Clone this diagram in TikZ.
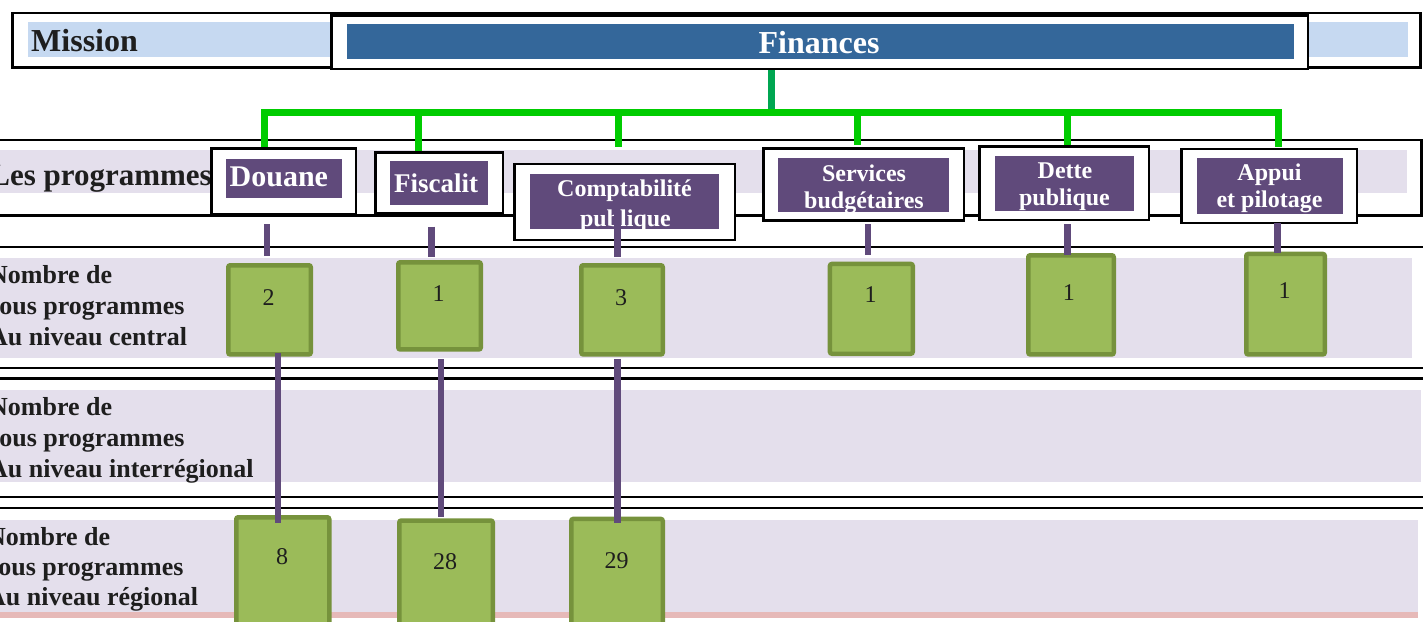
\documentclass[tikz,border=0pt]{standalone}
\usepackage{fontspec}
\setmainfont{Liberation Serif}
\usetikzlibrary{calc}
\definecolor{lblue}{HTML}{C6D9F1}
\definecolor{dblue}{HTML}{34679A}
\definecolor{lpurple}{HTML}{E4DFEC}
\definecolor{mpurple}{HTML}{604A7B}
\definecolor{gbright}{HTML}{00CC00}
\definecolor{gdark}{HTML}{00A651}
\definecolor{gfill}{HTML}{9BBB59}
\definecolor{gborder}{HTML}{76923C}
\definecolor{mpink}{HTML}{E6B9B8}
\definecolor{txt}{HTML}{1E1E1E}
\begin{document}
\begin{tikzpicture}[x=1pt,y=-1pt,
  wbox/.style={draw=black, line width=2.5pt, fill=white, inner sep=0pt},
  gbox/.style={draw=gborder, fill=gfill, line width=4.5pt, rounded corners=2pt, inner sep=0pt},
  rowline/.style={draw=black, line width=2.5pt},
  gline/.style={draw=gbright, line width=7pt},
  pline/.style={draw=mpurple, line width=6.5pt},
  rl/.style={anchor=base west, inner sep=0pt, text=txt, font=\fontsize{26}{31}\selectfont\bfseries},
  bigt/.style={inner sep=0pt, font=\fontsize{32}{38}\selectfont\bfseries},
  pt/.style={anchor=base, inner sep=0pt, text=white, font=\fontsize{24}{28}\selectfont\bfseries},
  num/.style={anchor=base, inner sep=0pt, text=txt, font=\fontsize{24}{28}\selectfont},
]
\useasboundingbox (0,0) rectangle (1423,621);
\clip (0,0) rectangle (1423,621);

% row bands
\fill[lpurple] (0,150) rectangle (1407,192.7);
\fill[lpurple] (0,258) rectangle (1412,357.7);
\fill[lpurple] (0,390) rectangle (1420.5,481.7);
\fill[lpurple] (0,520) rectangle (1418,612);
\fill[mpink] (0,612) rectangle (1418,618);

% row lines
\draw[rowline] (-5,140) -- (1421.5,140) -- (1421.5,215.5) -- (-5,215.5);
\draw[rowline] (-5,247) -- (1430,247);
\draw[rowline] (-5,368) -- (1430,368);
\draw[rowline] (-5,378.5) -- (1430,378.5);
\draw[rowline] (-5,497) -- (1430,497);
\draw[rowline] (-5,508) -- (1430,508);

% row labels
\node[bigt, anchor=base east, text=txt, font=\fontsize{31}{37}\selectfont\bfseries] (lprog) at (212,185) {Les programmes};
\node[rl] (lc1) at (-11,283) {Nombre de};
\node[rl] (lc2) at (-11,314) {sous programmes};
\node[rl] (lc3) at (-11,345) {Au niveau central};
\node[rl] (li1) at (-11,415) {Nombre de};
\node[rl] (li2) at (-11,446) {sous programmes};
\node[rl] (li3) at (-11,477) {Au niveau interrégional};
\node[rl] (lr1) at (-13,545) {Nombre de};
\node[rl] (lr2) at (-12,575) {sous programmes};
\node[rl] (lr3) at (-13,605) {Au niveau régional};

% mission row
\node[wbox, fill=none, minimum width=1408, minimum height=54.5] (mis) at (716.5,40) {};
\fill[lblue] (27.5,22) rectangle (1408,57);
\node[wbox, minimum width=976.5, minimum height=53.5] (fin) at (819.5,42) {};
\fill[dblue] (347,24) rectangle (1294,59);
\node[bigt, anchor=base west, text=txt] (mist) at (31,51.7) {Mission};
\node[bigt, anchor=base, text=white] (fint) at (819,53) {Finances};

% green bus
\coordinate (bus) at (771.5,112.5);
\coordinate (d1) at (264,147);
\coordinate (d2) at (418,151);
\coordinate (d3) at (618,147);
\coordinate (d4) at (857,145);
\coordinate (d5) at (1067,147);
\coordinate (d6) at (1278,147);
\draw[gline, draw=gdark] (fin.south -| bus) -- ($(bus)+(0,3.5)$);
\draw[gline, line join=miter] (d1) -- (d1 |- bus) -- (d6 |- bus) -- (d6);
\foreach \d in {d2,d3,d4,d5} \draw[gline] (\d |- bus) -- (\d);

% programme boxes
\node[wbox, minimum width=144.5, minimum height=65.5] (dou) at (283.5,181) {};
\fill[mpurple] (226,159) rectangle (342,198);
\node[pt, anchor=base west, font=\fontsize{30}{34}\selectfont\bfseries] (dout) at (229.5,186) {Douane};

\node[wbox, minimum width=127.5, minimum height=60.5] (fis) at (439,182.5) {};
\fill[mpurple] (390,161) rectangle (488,205);
\node[pt, anchor=base west, font=\fontsize{27}{32}\selectfont\bfseries] (fist) at (394,192) {Fiscalit};

\node[wbox, minimum width=220.5, minimum height=75.8] (com) at (624.5,201.85) {};
\fill[mpurple] (530,174) rectangle (719,229);
\begin{scope}
\clip (530,174) rectangle (719,229);
\node[pt] (comt1) at (624.5,196) {Comptabilité};
\node[pt] (comt2) at (625.5,226) {publique};
\end{scope}

\node[wbox, minimum width=200.5, minimum height=72.2] (ser) at (863.5,184.35) {};
\fill[mpurple] (778,158) rectangle (949,212);
\node[pt] (sert1) at (864,181.7) {Services};
\node[pt] (sert2) at (864,208.3) {budgétaires};

\node[wbox, minimum width=169.5, minimum height=73.5] (det) at (1064,183) {};
\fill[mpurple] (995,156) rectangle (1134,210.7);
\node[pt] (dett1) at (1065,178.3) {Dette};
\node[pt] (dett2) at (1064.5,205) {publique};

\node[wbox, minimum width=175.5, minimum height=73.8] (app) at (1269,185.85) {};
\fill[mpurple] (1197,158) rectangle (1343,214);
\node[pt] (appt1) at (1269.5,180) {Appui};
\node[pt] (appt2) at (1269.5,207) {et pilotage};

% central green boxes
\node[gbox, minimum width=82.5, minimum height=89.2] (c1) at (269.5,309.85) {};
\node[gbox, minimum width=82.5, minimum height=87.2] (c2) at (439.5,305.85) {};
\node[gbox, minimum width=81.5, minimum height=89.2] (c3) at (622,309.85) {};
\node[gbox, minimum width=82.8, minimum height=89.8] (c4) at (871.35,308.85) {};
\node[gbox, minimum width=85.5, minimum height=99.2] (c5) at (1071,304.85) {};
\node[gbox, minimum width=78.5, minimum height=100.5] (c6) at (1285.5,304.2) {};

% regional green boxes
\node[gbox, minimum width=93, minimum height=120.5] (r1) at (282.75,577.5) {};
\node[gbox, minimum width=93.5, minimum height=117.2] (r2) at (446,579.15) {};
\node[gbox, minimum width=91.5, minimum height=118.8] (r3) at (617,578.35) {};

% purple connectors
\coordinate (a1) at (267,224);    \coordinate (b1) at (267,256);
\coordinate (a2) at (431.6,226.7);\coordinate (b2) at (431.6,256.7);
\coordinate (a3) at (617.5,213);  \coordinate (b3) at (617.5,256.7);
\coordinate (a4) at (868,224);    \coordinate (b4) at (868,255);
\coordinate (a5) at (1067.5,224); \coordinate (b5) at (1067.5,255);
\coordinate (a6) at (1277.7,222.7);\coordinate (b6) at (1277.7,253);
\foreach \i in {1,...,6} \draw[pline] (a\i) -- (b\i);
\coordinate (e1) at (277.8,353);  \coordinate (f1) at (277.8,522.7);
\coordinate (e2) at (440.8,359);  \coordinate (f2) at (440.8,516.7);
\coordinate (e3) at (617.5,359);  \coordinate (f3) at (617.5,522.7);
\foreach \i in {1,2,3} \draw[pline] (e\i) -- (f\i);

% numbers
\node[num] (n1) at (268.6,305) {2};
\node[num] (n2) at (438.5,301) {1};
\node[num] (n3) at (621,305) {3};
\node[num] (n4) at (870.6,302.3) {1};
\node[num] (n5) at (1068.8,300) {1};
\node[num] (n6) at (1284.6,298.3) {1};
\node[num] (m1) at (282,564) {8};
\node[num] (m2) at (445,569) {28};
\node[num] (m3) at (616.6,568.3) {29};
\end{tikzpicture}
\end{document}
